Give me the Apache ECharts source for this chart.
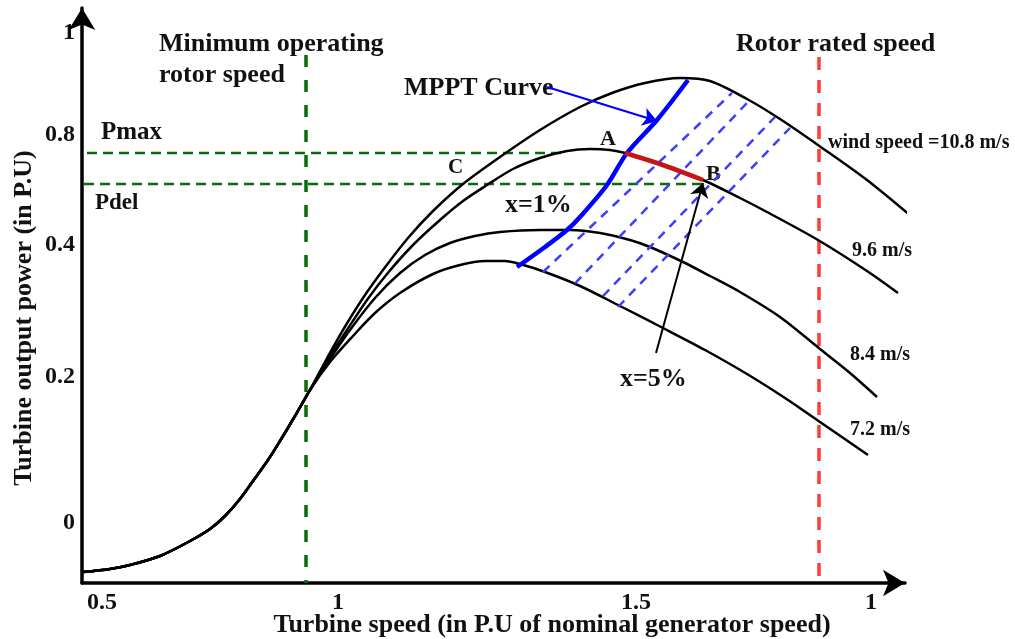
<!DOCTYPE html>
<html>
<head>
<meta charset="utf-8">
<script src="https://cdn.jsdelivr.net/npm/echarts@6/dist/echarts.min.js"></script>
<style>html,body{margin:0;padding:0;background:#fff}#c{width:1015px;height:639px}</style>
</head>
<body>
<div id="c"></div>
<script>
// ---- tick labels ----
const xTickValues = [0.514, 0.986, 1.582, 2.052];
const xTickLabels = ['0.5', '1', '1.5', '1'];
const yTickValues = [0, 0.292, 0.556, 0.776, 0.98];
const yTickLabels = ['0', '0.2', '0.4', '0.8', '1'];

// ---- power curves (turbine speed, output power) ----
const rise = [[0.476,-0.098],[0.53,-0.092],[0.57,-0.084],[0.63,-0.066],[0.69,-0.036],[0.73,-0.012],[0.76,0.014],[0.79,0.048],[0.816,0.084],[0.846,0.126],[0.87,0.164],[0.9,0.214],[0.93,0.266]];
const wind108 = [[0.96,0.322],[0.996,0.386],[1.036,0.45],[1.076,0.506],[1.126,0.57],[1.176,0.624],[1.236,0.678],[1.31,0.732],[1.39,0.786],[1.47,0.832],[1.534,0.86],[1.6,0.88],[1.67,0.89],[1.73,0.884],[1.804,0.848],[1.87,0.808],[1.946,0.756],[2.044,0.686],[2.146,0.602]];
const wind96 = [[0.964,0.324],[1.004,0.386],[1.044,0.446],[1.084,0.498],[1.136,0.556],[1.19,0.606],[1.236,0.644],[1.284,0.676],[1.336,0.708],[1.39,0.73],[1.444,0.744],[1.49,0.748],[1.53,0.746],[1.56,0.74],[1.63,0.718],[1.716,0.686],[1.79,0.65],[1.844,0.622],[1.946,0.566],[2.044,0.504],[2.106,0.46]];
const wind84 = [[0.966,0.322],[1.01,0.386],[1.06,0.45],[1.11,0.5],[1.16,0.536],[1.21,0.56],[1.26,0.574],[1.31,0.582],[1.39,0.586],[1.45,0.586],[1.51,0.58],[1.57,0.566],[1.61,0.552],[1.676,0.522],[1.73,0.494],[1.79,0.462],[1.87,0.412],[1.95,0.348],[2.01,0.3],[2.064,0.252]];
const wind72 = [[0.97,0.322],[1.016,0.374],[1.06,0.42],[1.11,0.46],[1.176,0.498],[1.23,0.516],[1.28,0.524],[1.32,0.524],[1.35,0.518],[1.4,0.502],[1.47,0.474],[1.55,0.434],[1.636,0.39],[1.72,0.346],[1.804,0.298],[1.88,0.25],[1.95,0.202],[2.046,0.136]];
const mppt = [[1.344,0.512],[1.4,0.552],[1.444,0.586],[1.47,0.612],[1.524,0.676],[1.564,0.74],[1.624,0.806],[1.686,0.886]];
const deload1 = [[1.396,0.502],[1.774,0.86]];
const deload2 = [[1.46,0.479],[1.804,0.84]];
const deload3 = [[1.516,0.454],[1.86,0.812]];
const deload4 = [[1.546,0.432],[1.89,0.79]];
const segAB = [[1.56,0.74],[1.63,0.718],[1.716,0.686]];
const pmaxLine = [[0.484,0.74],[1.44,0.74]];
const pdelLine = [[0.478,0.678],[1.716,0.678]];
const minSpeedLine = [[0.922,0.936],[0.922,-0.12]];
const ratedSpeedLine = [[1.948,0.932],[1.948,-0.12]];
const mpptArrow = [[1.404,0.872],[1.624,0.804]];
const x5Arrow = [[1.622,0.34],[1.716,0.68]];

const FONT = '"Liberation Serif", "Times New Roman", serif';
const chart = echarts.init(document.getElementById('c'), null, {renderer: 'canvas'});

function lookup(vals, labels, v) {
  for (let i = 0; i < vals.length; i++) if (Math.abs(vals[i] - v) < 1e-6) return labels[i];
  return '';
}
function curve(data, extra) {
  return Object.assign({
    type: 'line', data: data, showSymbol: false, symbol: 'none', smooth: 0.3, clip: false,
    lineStyle: {color: '#000', width: 2.5}, z: 3, silent: true, animation: false
  }, extra || {});
}
function straight(data, color, width, dash, z) {
  return {type: 'line', data: data, showSymbol: false, symbol: 'none', clip: false, silent: true, animation: false,
    lineStyle: {color: color, width: width, type: dash}, z: z};
}
function txt(text, left, y, size, extra) {
  return Object.assign({type: 'text', left: left, top: y - size * 0.6,
    style: {text: text, font: 'bold ' + size + 'px ' + FONT, fill: '#111'}}, extra || {});
}

chart.setOption({
  animation: false,
  backgroundColor: '#fff',
  grid: {left: 82, right: 110, top: 8, bottom: 56, containLabel: false},
  xAxis: {
    type: 'value', min: 0.474, max: 2.12,
    axisLine: {onZero: false, lineStyle: {color: '#000', width: 3.5}, symbol: ['none', 'arrow'], symbolSize: [20, 22]},
    axisTick: {show: false}, splitLine: {show: false},
    axisLabel: {customValues: xTickValues, margin: 8, color: '#111', fontFamily: FONT, fontWeight: 'bold', fontSize: 24,
      formatter: v => lookup(xTickValues, xTickLabels, v)}
  },
  yAxis: {
    type: 'value', min: -0.12, max: 1.03,
    axisLine: {onZero: false, lineStyle: {color: '#000', width: 3.5}, symbol: ['none', 'arrow'], symbolSize: [20, 22]},
    axisTick: {show: false}, splitLine: {show: false},
    axisLabel: {customValues: yTickValues, margin: 7, color: '#111', fontFamily: FONT, fontWeight: 'bold', fontSize: 24,
      formatter: v => lookup(yTickValues, yTickLabels, v)}
  },
  series: [
    straight(pmaxLine, '#0a6b0a', 2.5, [10, 6], 1),
    straight(pdelLine, '#0a6b0a', 2.5, [10, 6], 1),
    straight(minSpeedLine, '#0a6b0a', 3.5, [12, 13], 1),
    straight(ratedSpeedLine, '#ff3b3b', 3.5, [13, 10], 1),
    curve(rise.concat(wind108)),
    curve(rise.concat(wind96)),
    curve(rise.concat(wind84)),
    curve(rise.concat(wind72)),
    straight(deload1, '#3d3dff', 2.5, [9, 7], 4),
    straight(deload2, '#3d3dff', 2.5, [9, 7], 4),
    straight(deload3, '#3d3dff', 2.5, [9, 7], 4),
    straight(deload4, '#3d3dff', 2.5, [9, 7], 4),
    curve(mppt, {lineStyle: {color: '#0000ff', width: 4.5}, smooth: 0.3, z: 5}),
    curve(segAB, {lineStyle: {color: '#c41616', width: 4.5}, smooth: 0.3, z: 6}),
    {type: 'lines', coordinateSystem: 'cartesian2d', silent: true, animation: false, z: 7,
      symbol: ['none', 'arrow'], symbolSize: 14,
      lineStyle: {color: '#0000ff', width: 2, opacity: 1},
      data: [{coords: mpptArrow}]},
    {type: 'lines', coordinateSystem: 'cartesian2d', silent: true, animation: false, z: 7,
      symbol: ['none', 'arrow'], symbolSize: 14,
      lineStyle: {color: '#000', width: 2, opacity: 1},
      data: [{coords: x5Arrow}]}
  ],
  graphic: [
    txt('Minimum operating', 159, 47, 26),
    txt('rotor speed', 159, 78, 26),
    txt('Rotor rated speed', 736, 47, 26),
    txt('MPPT Curve', 404, 91, 26),
    txt('Pmax', 101, 135, 25),
    txt('Pdel', 95, 205, 23),
    txt('C', 448, 170, 21),
    txt('A', 600, 142, 22),
    txt('B', 706, 177, 22),
    txt('x=1%', 505, 208, 26),
    txt('x=5%', 620, 382, 26),
    txt('wind speed =10.8 m/s', 828, 145, 20),
    txt('9.6 m/s', 852, 253, 20),
    txt('8.4 m/s', 850, 357, 20),
    txt('7.2 m/s', 850, 432, 20),
    {type: 'text', x: 552, y: 625,
      style: {text: 'Turbine speed (in P.U of nominal generator speed)', font: 'bold 26px ' + FONT, fill: '#111', align: 'center', verticalAlign: 'middle'}},
    {type: 'text', x: 24, y: 318, rotation: Math.PI / 2,
      style: {text: 'Turbine output power (in P.U)', font: 'bold 26px ' + FONT, fill: '#111', align: 'center', verticalAlign: 'middle'}}
  ]
});
</script>
</body>
</html>
